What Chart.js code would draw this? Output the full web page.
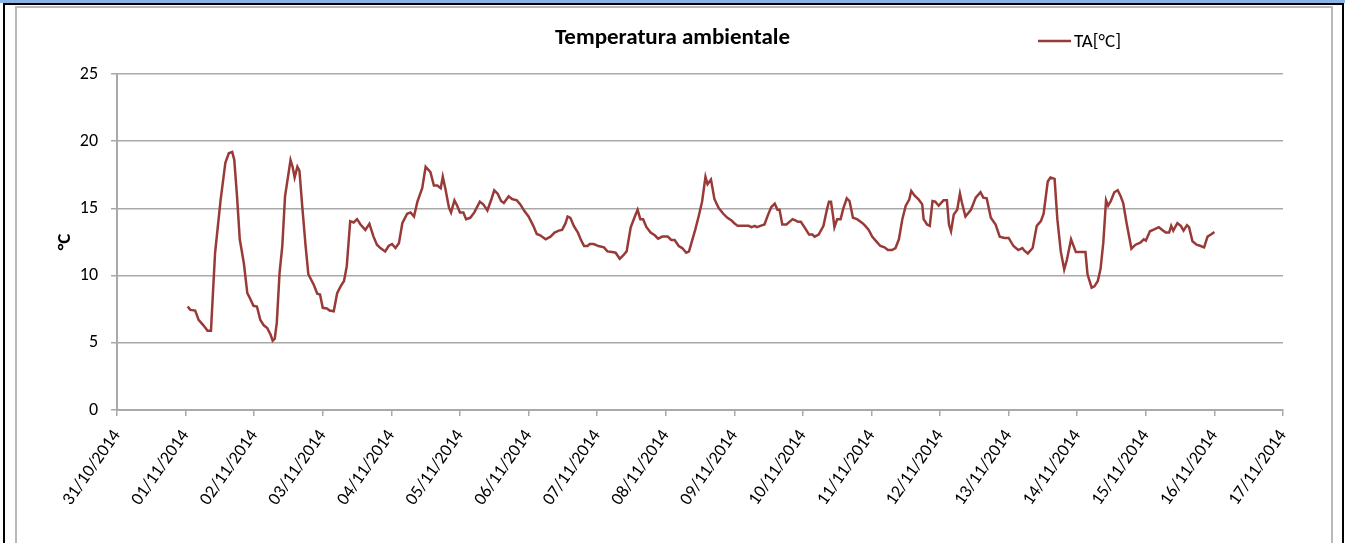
<!DOCTYPE html>
<html>
<head>
<meta charset="utf-8">
<script src="https://cdn.jsdelivr.net/npm/chart.js@4.4.0/dist/chart.umd.min.js"></script>
<style>
  body { margin: 0; background: #fff; width: 1345px; height: 543px; overflow: hidden; position: relative; }
  .bar { position: absolute; left: 0; top: 0; width: 1345px; height: 3px; background: #8db3e2; }
  .frame { position: absolute; left: 3px; top: 3px; width: 1337px; height: 560px; border: 2px solid #000; border-bottom: none; }
  .inner { position: absolute; left: 15px; top: 6px; width: 1314px; height: 560px; border: 2px solid #b9b9b9; border-bottom: none; }
  #chart { position: absolute; left: 0; top: 0; }
</style>
</head>
<body>
<div class="bar"></div>
<div class="frame"></div>
<div class="inner"></div>
<canvas id="chart" width="1345" height="543"></canvas>
<script>
// Date labels for the x axis (one per day, starting 31/10/2014)
var dateLabels = ['31/10/2014', '01/11/2014', '02/11/2014', '03/11/2014', '04/11/2014', '05/11/2014',
    '06/11/2014', '07/11/2014', '08/11/2014', '09/11/2014', '10/11/2014', '11/11/2014', '12/11/2014',
    '13/11/2014', '14/11/2014', '15/11/2014', '16/11/2014', '17/11/2014'];

// Time of each reading, in days since 31/10/2014 00:00
var days = [
    1.03, 1.07, 1.14, 1.19, 1.26, 1.32, 1.37, 1.43, 1.51, 1.58, 1.63, 1.68, 1.71, 1.75, 1.79, 1.85, 1.90, 1.94, 1.99,
    2.04, 2.09, 2.14, 2.19, 2.24, 2.27, 2.30, 2.33, 2.37, 2.41, 2.45, 2.53, 2.56, 2.59, 2.63, 2.66, 2.70, 2.75, 2.79,
    2.87, 2.92, 2.96, 3.00, 3.06, 3.10, 3.16, 3.21, 3.26, 3.31, 3.35, 3.40, 3.45, 3.50, 3.55, 3.62, 3.68, 3.74, 3.79,
    3.84, 3.91, 3.96, 4.01, 4.06, 4.11, 4.16, 4.23, 4.28, 4.33, 4.38, 4.45, 4.50, 4.57, 4.62, 4.67, 4.72, 4.75, 4.79,
    4.84, 4.87, 4.92, 4.96, 5.00, 5.05, 5.09, 5.15, 5.21, 5.29, 5.34, 5.40, 5.46, 5.50, 5.55, 5.60, 5.64, 5.71, 5.76,
    5.83, 5.88, 5.94, 6.00, 6.07, 6.12, 6.17, 6.25, 6.32, 6.38, 6.44, 6.49, 6.54, 6.57, 6.61, 6.66, 6.72, 6.76, 6.81,
    6.86, 6.89, 6.95, 7.02, 7.10, 7.15, 7.22, 7.27, 7.33, 7.38, 7.43, 7.49, 7.55, 7.59, 7.63, 7.67, 7.72, 7.78, 7.84,
    7.89, 7.95, 8.03, 8.08, 8.13, 8.19, 8.24, 8.30, 8.34, 8.39, 8.43, 8.48, 8.53, 8.58, 8.61, 8.66, 8.71, 8.77, 8.84,
    8.90, 8.96, 9.00, 9.05, 9.14, 9.21, 9.25, 9.30, 9.33, 9.38, 9.44, 9.49, 9.54, 9.59, 9.63, 9.66, 9.70, 9.76, 9.85,
    9.89, 9.93, 9.97, 10.03, 10.09, 10.14, 10.17, 10.23, 10.30, 10.35, 10.38, 10.41, 10.44, 10.46, 10.50, 10.55,
    10.59, 10.64, 10.68, 10.73, 10.79, 10.87, 10.91, 10.96, 11.01, 11.07, 11.13, 11.19, 11.24, 11.30, 11.35, 11.40,
    11.45, 11.50, 11.55, 11.58, 11.63, 11.69, 11.74, 11.76, 11.81, 11.85, 11.89, 11.93, 11.98, 12.05, 12.10, 12.13,
    12.16, 12.20, 12.25, 12.29, 12.32, 12.37, 12.45, 12.52, 12.59, 12.63, 12.68, 12.74, 12.81, 12.87, 12.94, 13.00,
    13.07, 13.14, 13.20, 13.23, 13.28, 13.35, 13.41, 13.47, 13.51, 13.57, 13.61, 13.67, 13.71, 13.76, 13.81, 13.85,
    13.91, 13.98, 14.05, 14.12, 14.15, 14.21, 14.25, 14.30, 14.34, 14.38, 14.42, 14.45, 14.49, 14.54, 14.59, 14.63,
    14.67, 14.72, 14.79, 14.85, 14.92, 14.97, 15.00, 15.06, 15.13, 15.19, 15.24, 15.29, 15.34, 15.37, 15.40, 15.46,
    15.51, 15.55, 15.60, 15.63, 15.68, 15.74, 15.80, 15.85, 15.90, 15.96, 16.00
];

// Ambient temperature TA[°C] for each reading
var temps = [
    7.7, 7.45, 7.4, 6.7, 6.3, 5.9, 5.9, 11.7, 15.6, 18.4, 19.1, 19.2, 18.6, 15.9, 12.7, 10.9, 8.7, 8.3, 7.75,
    7.7, 6.7, 6.3, 6.1, 5.6, 5.15, 5.3, 6.5, 10.2, 12.2, 15.9, 18.6, 18.1, 17.3, 18.1, 17.8, 15.2, 12.2, 10.1,
    9.3, 8.65, 8.6, 7.6, 7.55, 7.4, 7.35, 8.7, 9.2, 9.6, 10.7, 14.05, 13.95, 14.2, 13.8, 13.4, 13.85, 12.9, 12.3,
    12.05, 11.8, 12.2, 12.35, 12.05, 12.4, 13.9, 14.6, 14.7, 14.4, 15.5, 16.5, 18.1, 17.7, 16.7, 16.7, 16.5, 17.35, 16.4,
    15.05, 14.7, 15.6, 15.2, 14.7, 14.7, 14.2, 14.3, 14.7, 15.5, 15.3, 14.85, 15.7, 16.35, 16.1, 15.55, 15.4, 15.9, 15.7,
    15.6, 15.3, 14.8, 14.4, 13.7, 13.1, 13.0, 12.7, 12.9, 13.2, 13.35, 13.4, 13.9, 14.4, 14.3, 13.7, 13.2, 12.7, 12.2,
    12.2, 12.35, 12.35, 12.2, 12.1, 11.8, 11.75, 11.7, 11.25, 11.5, 11.8, 13.6, 14.4, 14.9, 14.2, 14.2, 13.6, 13.2, 13.0,
    12.75, 12.9, 12.9, 12.65, 12.65, 12.2, 12.05, 11.7, 11.8, 12.7, 13.4, 14.4, 15.5, 17.35, 16.8, 17.15, 15.7, 15.05, 14.6,
    14.3, 14.1, 13.9, 13.7, 13.7, 13.7, 13.6, 13.7, 13.6, 13.7, 13.8, 14.5, 15.1, 15.35, 14.9, 14.9, 13.8, 13.8, 14.2,
    14.1, 14.0, 14.0, 13.55, 13.05, 13.05, 12.9, 13.05, 13.7, 14.9, 15.5, 15.5, 14.45, 13.6, 14.2, 14.2,
    15.0, 15.75, 15.55, 14.3, 14.2, 13.9, 13.7, 13.4, 12.9, 12.55, 12.2, 12.1, 11.9, 11.9, 12.05, 12.7,
    14.2, 15.2, 15.65, 16.3, 15.95, 15.65, 15.3, 14.2, 13.8, 13.7, 15.55, 15.5, 15.2, 15.6, 15.6, 13.8,
    13.3, 14.55, 14.9, 16.1, 15.4, 14.4, 14.9, 15.8, 16.2, 15.8, 15.75, 14.3, 13.8, 12.9, 12.8, 12.8,
    12.2, 11.9, 12.05, 11.85, 11.65, 12.05, 13.7, 14.05, 14.6, 17.0, 17.3, 17.2, 14.2, 11.8, 10.45, 11.2,
    12.7, 11.75, 11.75, 11.75, 10.1, 9.1, 9.2, 9.6, 10.5, 12.45, 15.6, 15.2, 15.55, 16.2, 16.35, 15.95,
    15.4, 13.9, 12.0, 12.3, 12.45, 12.7, 12.6, 13.3, 13.45, 13.6, 13.4, 13.2, 13.2, 13.7, 13.35, 13.9,
    13.7, 13.35, 13.75, 13.6, 12.55, 12.3, 12.2, 12.1, 12.9, 13.1, 13.25
];

var seriesLabel = 'TA[°C]';
var chartTitle = 'Temperatura ambientale';
var lineColor = '#983a37';
var gridColor = '#a9a9a9';
var fontFamily = 'Carlito, Calibri, Lato, "Liberation Sans", sans-serif';

Chart.defaults.font.family = fontFamily;
Chart.defaults.color = '#000';

// Title centred on the page, legend to its right, like the original
var headerPlugin = {
    id: 'header',
    afterDraw: function(chart) {
        var ctx = chart.ctx;
        var ds = chart.data.datasets[0];
        ctx.save();
        ctx.fillStyle = '#000';
        ctx.textBaseline = 'middle';
        ctx.font = 'bold 23px ' + fontFamily;
        ctx.textAlign = 'center';
        ctx.fillText(chartTitle, 672.5, 38);

        ctx.strokeStyle = ds.borderColor;
        ctx.lineWidth = 2.5;
        ctx.beginPath();
        ctx.moveTo(1038, 41);
        ctx.lineTo(1071, 41);
        ctx.stroke();
        ctx.font = '19px ' + fontFamily;
        ctx.textAlign = 'left';
        ctx.fillText(ds.label, 1074, 42);
        ctx.restore();
    }
};

var ctx = document.getElementById('chart').getContext('2d');
var chart = new Chart(ctx, {
    type: 'line',
    data: {
        datasets: [{
            label: seriesLabel,
            data: days.map(function(d, i) { return {x: d, y: temps[i]}; }),
            borderColor: lineColor,
            borderWidth: 2.5,
            pointRadius: 0,
            tension: 0,
            fill: false
        }]
    },
    options: {
        responsive: false,
        animation: false,
        layout: {padding: {left: 20, right: 62, top: 74, bottom: 0}},
        plugins: {
            legend: {display: false},
            tooltip: {enabled: false},
            title: {display: false}
        },
        scales: {
            x: {
                type: 'linear',
                min: 0,
                max: 17,
                afterFit: function(scale) { scale.height = 133; },
                ticks: {
                    stepSize: 1,
                    autoSkip: false,
                    minRotation: 55,
                    maxRotation: 55,
                    padding: 10,
                    font: {size: 18},
                    callback: function(value) { return dateLabels[value]; }
                },
                grid: {drawOnChartArea: false, color: gridColor, lineWidth: 1.5, tickLength: 6},
                border: {color: gridColor, width: 2}
            },
            y: {
                min: 0,
                max: 25,
                afterFit: function(scale) { scale.width = 97; },
                ticks: {stepSize: 5, padding: 13, font: {size: 18}},
                grid: {color: gridColor, lineWidth: 1.5, tickLength: 6},
                border: {color: gridColor, width: 2},
                title: {
                    display: true,
                    text: '°C',
                    font: {size: 19, weight: 'bold'},
                    padding: {top: 34, bottom: 0}
                }
            }
        }
    },
    plugins: [headerPlugin]
});
</script>
</body>
</html>
